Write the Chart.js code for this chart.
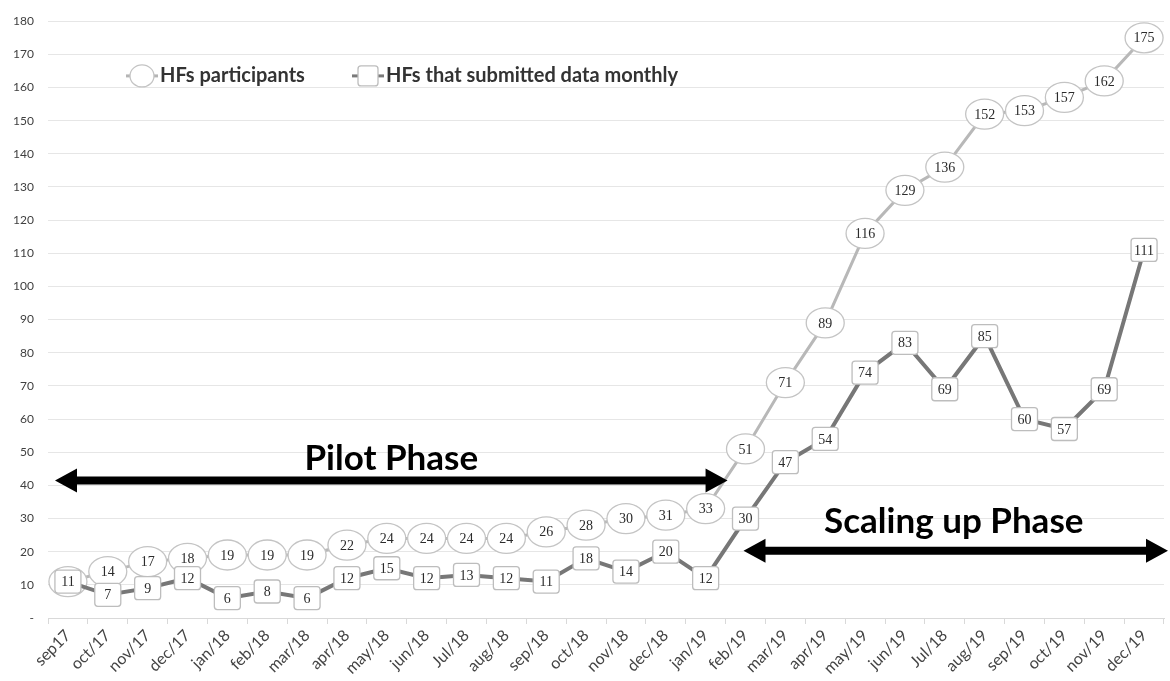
<!DOCTYPE html>
<html>
<head>
<meta charset="utf-8">
<script src="https://cdn.jsdelivr.net/npm/chart.js"></script>
<style>
  html, body { margin: 0; padding: 0; background: #fff; }
  #wrap { width: 1170px; height: 681px; }
</style>
</head>
<body>
<div id="wrap"><canvas id="myChart" width="1170" height="681"></canvas></div>
<script>
// data
const months = ["sep17", "oct/17", "nov/17", "dec/17", "jan/18", "feb/18", "mar/18", "apr/18",
  "may/18", "jun/18", "Jul/18", "aug/18", "sep/18", "oct/18", "nov/18", "dec/18", "jan/19",
  "feb/19", "mar/19", "apr/19", "may/19", "jun/19", "Jul/18", "aug/19", "sep/19", "oct/19",
  "nov/19", "dec/19"];
const participants = [11, 14, 17, 18, 19, 19, 19, 22, 24, 24, 24, 24, 26, 28, 30, 31, 33,
  51, 71, 89, 116, 129, 136, 152, 153, 157, 162, 175];
const submitted = [11, 7, 9, 12, 6, 8, 6, 12, 15, 12, 13, 12, 11, 18, 14, 20, 12,
  30, 47, 54, 74, 83, 69, 85, 60, 57, 69, 111];
const seriesNames = ["HFs participants", "HFs that submitted data monthly"];
const phaseNames = ["Pilot Phase", "Scaling up Phase"];

const labelFont = "14px 'Liberation Serif', serif";

function ellipse(ctx, x, y, rx, ry) {
  ctx.beginPath();
  ctx.ellipse(x, y, rx, ry, 0, 0, Math.PI * 2);
  ctx.fillStyle = "#fff";
  ctx.fill();
  ctx.strokeStyle = "#c4c4c4";
  ctx.lineWidth = 1.3;
  ctx.stroke();
}

function box(ctx, x, y, w, h) {
  ctx.beginPath();
  ctx.roundRect(x - w / 2, y - h / 2, w, h, 3);
  ctx.fillStyle = "#fff";
  ctx.fill();
  ctx.strokeStyle = "#bdbdbd";
  ctx.lineWidth = 1.3;
  ctx.stroke();
}

function arrow(ctx, x1, x2, y) {
  const head = 22, half = 12, shaft = 4;
  ctx.beginPath();
  ctx.moveTo(x1, y);
  ctx.lineTo(x1 + head, y - half);
  ctx.lineTo(x1 + head, y - shaft);
  ctx.lineTo(x2 - head, y - shaft);
  ctx.lineTo(x2 - head, y - half);
  ctx.lineTo(x2, y);
  ctx.lineTo(x2 - head, y + half);
  ctx.lineTo(x2 - head, y + shaft);
  ctx.lineTo(x1 + head, y + shaft);
  ctx.lineTo(x1 + head, y + half);
  ctx.closePath();
  ctx.fillStyle = "#000";
  ctx.fill();
}

// value labels drawn as the point markers
const markerPlugin = {
  id: "markers",
  afterDatasetDraw(chart, args) {
    const ctx = chart.ctx;
    const ds = chart.data.datasets[args.index];
    ctx.save();
    args.meta.data.forEach((pt, i) => {
      if (ds.marker === "ellipse") ellipse(ctx, pt.x, pt.y, 19, 15);
      else box(ctx, pt.x, pt.y, 26, 23);
      ctx.fillStyle = "#2b2b2b";
      ctx.font = labelFont;
      ctx.textAlign = "center";
      ctx.textBaseline = "middle";
      ctx.fillText(ds.data[i], pt.x, pt.y + 1);
    });
    ctx.restore();
  },
  afterDraw(chart) {
    const ctx = chart.ctx;
    const x = chart.scales.x, y = chart.scales.y;
    const area = chart.chartArea;
    ctx.save();

    // legend
    const ly = y.getPixelForValue(163.5);
    ctx.font = "bold 20px Lato, sans-serif";
    ctx.textBaseline = "middle";
    ctx.textAlign = "left";
    let lx = area.left + 78;
    ctx.strokeStyle = "#b5b5b5"; ctx.lineWidth = 3;
    ctx.beginPath(); ctx.moveTo(lx, ly); ctx.lineTo(lx + 32, ly); ctx.stroke();
    ellipse(ctx, lx + 16, ly, 12, 11);
    ctx.fillStyle = "#333";
    ctx.fillText(seriesNames[0], lx + 34, ly);
    lx = area.left + 304;
    ctx.strokeStyle = "#7a7a7a"; ctx.lineWidth = 3;
    ctx.beginPath(); ctx.moveTo(lx, ly); ctx.lineTo(lx + 32, ly); ctx.stroke();
    box(ctx, lx + 16, ly, 20, 20);
    ctx.fillStyle = "#333";
    ctx.fillText(seriesNames[1], lx + 34, ly);

    // phase arrows
    const step = x.getPixelForValue(1) - x.getPixelForValue(0);
    const pilotY = y.getPixelForValue(41.5);
    const pilotL = area.left + 7, pilotR = x.getPixelForValue(16) + step * 0.55;
    arrow(ctx, pilotL, pilotR, pilotY);
    const scaleY = y.getPixelForValue(20.3);
    const scaleL = x.getPixelForValue(16) + step * 0.95, scaleR = area.right + 4;
    arrow(ctx, scaleL, scaleR, scaleY);

    ctx.fillStyle = "#000";
    ctx.font = "bold 35px Lato, sans-serif";
    ctx.textAlign = "center";
    ctx.textBaseline = "middle";
    ctx.fillText(phaseNames[0], (pilotL + pilotR) / 2, y.getPixelForValue(48));
    ctx.fillText(phaseNames[1], (scaleL + scaleR) / 2 - 2, y.getPixelForValue(29));
    ctx.restore();
  }
};

const ctx = document.getElementById("myChart").getContext("2d");
new Chart(ctx, {
  type: "line",
  data: {
    labels: months,
    datasets: [{
      label: seriesNames[1],
      data: submitted,
      borderColor: "#777",
      borderWidth: 4,
      pointRadius: 0,
      marker: "box",
      order: 1
    }, {
      label: seriesNames[0],
      data: participants,
      borderColor: "#b8b8b8",
      borderWidth: 3,
      pointRadius: 0,
      marker: "ellipse",
      order: 2
    }]
  },
  options: {
    responsive: false,
    animation: false,
    layout: { padding: { top: 11, right: 6, left: 0, bottom: 0 } },
    plugins: {
      legend: { display: false },
      tooltip: { enabled: false }
    },
    scales: {
      x: {
        offset: true,
        afterFit(scale) { scale.height = 63; },
        grid: { offset: true, drawOnChartArea: false, drawTicks: true, tickLength: 6, color: "#d9d9d9" },
        border: { color: "#d9d9d9", width: 1 },
        ticks: {
          autoSkip: false,
          minRotation: 45,
          maxRotation: 45,
          padding: 2,
          color: "#444",
          font: { family: "Lato, sans-serif", size: 16 }
        }
      },
      y: {
        min: 0,
        max: 180,
        afterFit(scale) { scale.width = 48; },
        grid: { color: "#e6e6e6", drawTicks: false },
        border: { display: false },
        ticks: {
          stepSize: 10,
          padding: 14,
          color: "#404040",
          font: { family: "Lato, sans-serif", size: 12 },
          callback: v => v === 0 ? "-" : v
        }
      }
    }
  },
  plugins: [markerPlugin]
});
</script>
</body>
</html>
